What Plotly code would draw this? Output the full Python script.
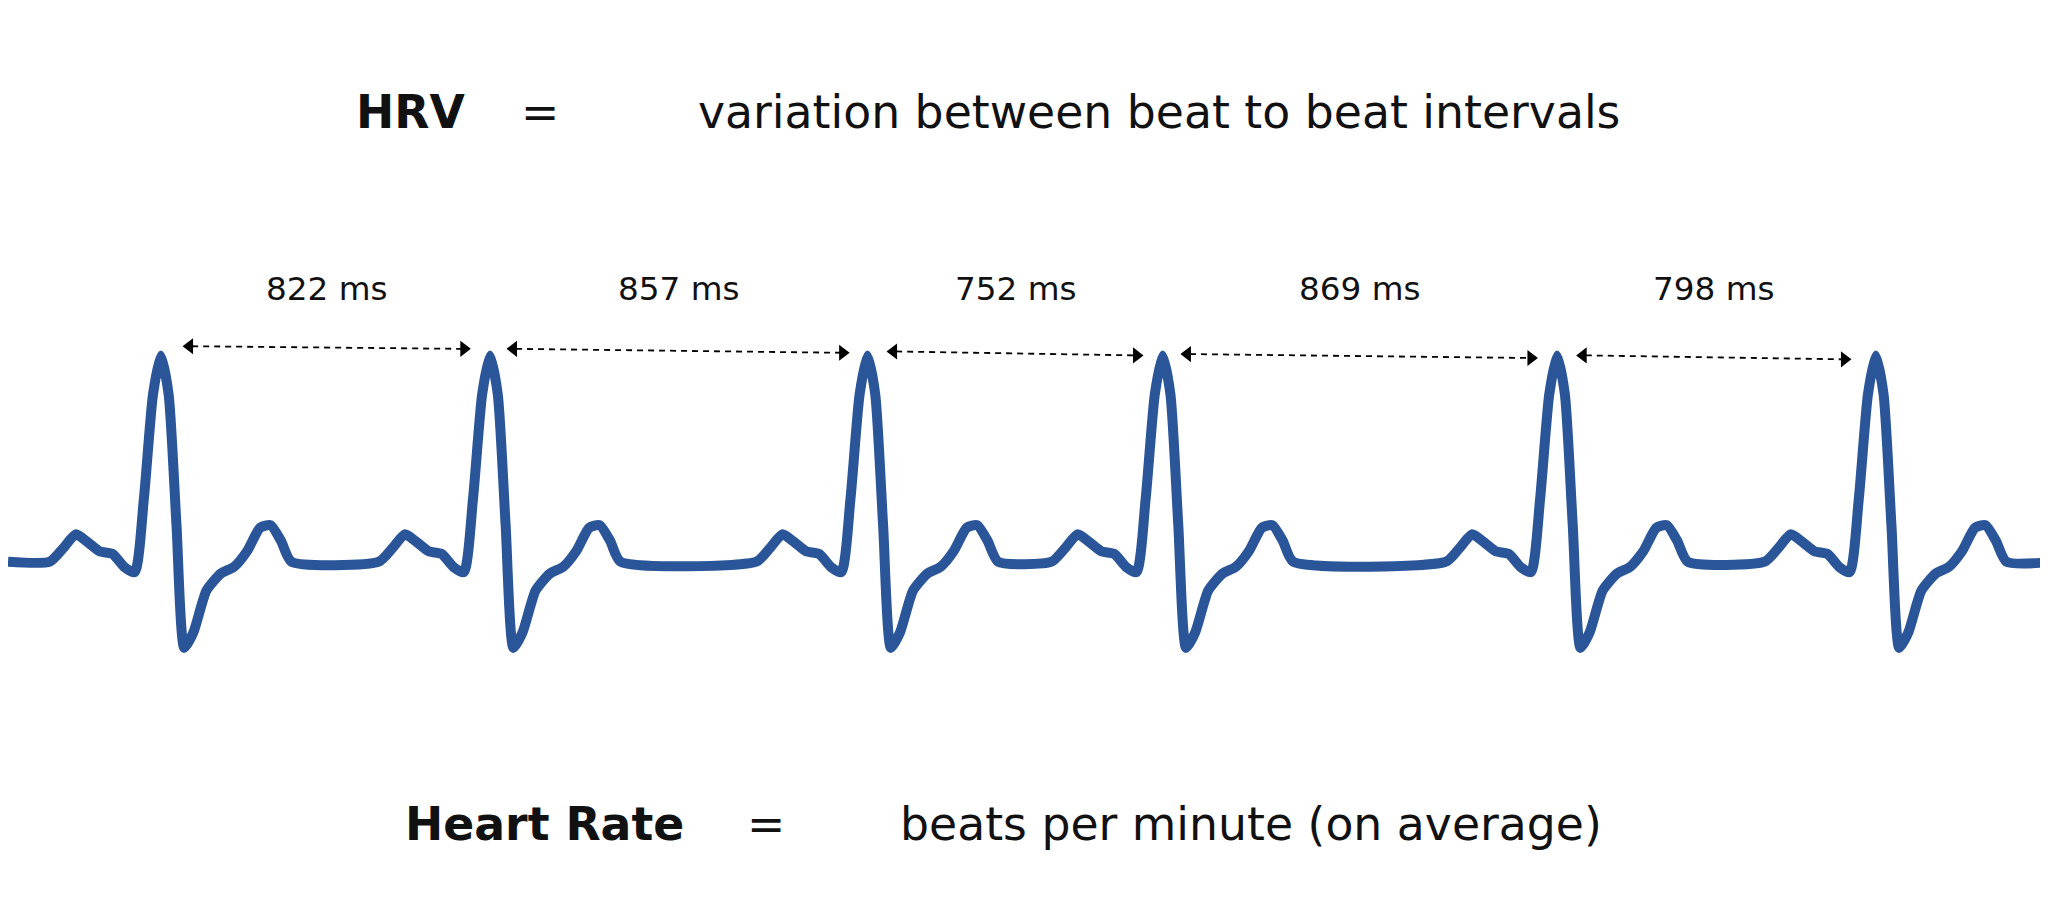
import plotly.graph_objects as go

# R-peak positions (image units, 1568 wide) and interval labels
peaks_x = [117, 369, 658, 884, 1186, 1430]
intervals = ["822 ms", "857 ms", "752 ms", "869 ms", "798 ms"]
arrow_x0 = [133, 381, 672, 897, 1200]
arrow_x1 = [355, 645, 870, 1172, 1412]
arrow_y0 = [259, 261, 263, 265, 266]
arrow_y1 = [261, 264, 266, 268, 269]

# one heartbeat, offsets from the R peak
beat_dx = [-85, -75, -65, -56, -47, -37, -28, -20, -13, -6, 0, 6, 12, 18, 25, 35, 46, 56, 66, 76, 84, 92, 100]
beat_y = [424, 414, 403, 409, 416, 418, 428, 432, 376, 296, 266, 296, 396, 490, 478, 446, 433, 428, 416, 398, 396, 408, 424]

BASE = 424
W, H = 1568, 706
S = 2048 / W
BLUE = "#2a5599"
FONT = "DejaVu Sans"

xs, ys = [0], [BASE]
for p in peaks_x:
    for dx, y in zip(beat_dx, beat_y):
        xs.append(p + dx)
        ys.append(y)
xs.append(W)
ys.append(BASE)

fig = go.Figure()

fig.add_trace(go.Scatter(x=xs, y=ys, mode="lines",
                         line=dict(color=BLUE, width=10, shape="spline", smoothing=0.6),
                         hoverinfo="skip"))

for x0, x1, y0, y1, lab in zip(arrow_x0, arrow_x1, arrow_y0, arrow_y1, intervals):
    fig.add_trace(go.Scatter(x=[x0 + 8, x1 - 8], y=[y0, y1], mode="lines",
                             line=dict(color="black", width=1.8, dash="6px,5px"),
                             hoverinfo="skip"))
    fig.add_trace(go.Scatter(x=[x0 + 6, x1 - 6], y=[y0, y1], mode="markers",
                             marker=dict(symbol=["triangle-left", "triangle-right"],
                                         size=14, color="black", line=dict(width=0)),
                             hoverinfo="skip"))
    fig.add_annotation(x=(x0 + x1) / 2, y=215, text=lab, showarrow=False,
                       font=dict(size=25 * S, color="#111", family=FONT))

big = dict(size=35 * S, color="#111", family=FONT)
fig.add_annotation(x=308, y=80, text="<b>HRV</b>", showarrow=False, font=big)
fig.add_annotation(x=407, y=80, text="=", showarrow=False, font=big)
fig.add_annotation(x=881, y=80, text="variation between beat to beat intervals",
                   showarrow=False, font=big)

fig.add_annotation(x=411, y=625, text="<b>Heart Rate</b>", showarrow=False, font=big)
fig.add_annotation(x=580, y=625, text="=", showarrow=False, font=big)
fig.add_annotation(x=952, y=625, text="beats per minute (on average)",
                   showarrow=False, font=big)

fig.update_xaxes(range=[0, W], visible=False, fixedrange=True)
fig.update_yaxes(range=[H, 0], visible=False, fixedrange=True)
fig.update_layout(width=2048, height=922, margin=dict(l=0, r=0, t=0, b=0),
                  paper_bgcolor="white", plot_bgcolor="white", showlegend=False)

fig.write_html("out.html")
